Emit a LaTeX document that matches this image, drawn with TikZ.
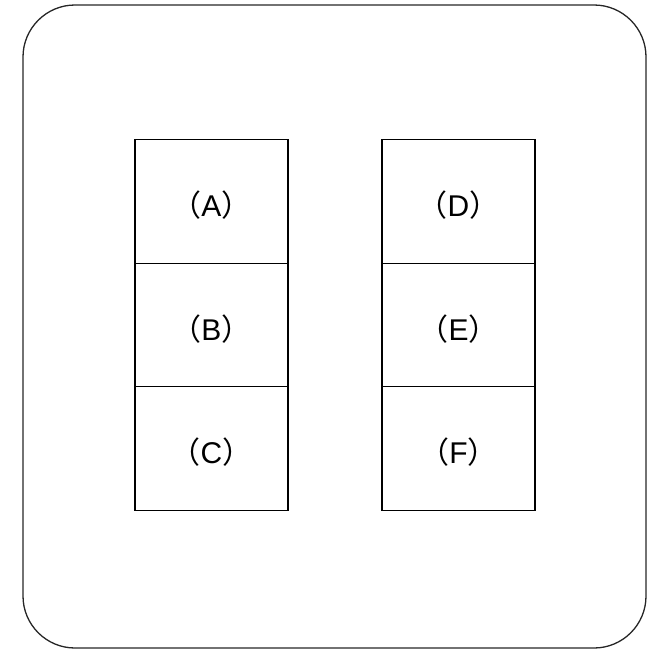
\documentclass[tikz,border=0pt]{standalone}
\usepackage{fontspec}
\setmainfont{Liberation Sans}
\newfontfamily\cjk{Noto Sans CJK JP}
\usepackage{tikz}

\begin{document}
\begin{tikzpicture}[x=1pt,y=-1pt,
  cellstyle/.style={draw,line width=1.3pt,minimum width=153pt,minimum height=123.5pt,
    inner sep=0pt,font=\fontsize{30}{30}\selectfont},
  labelstyle/.style={font=\fontsize{30}{30}\selectfont,inner sep=0pt}]
  \useasboundingbox (0,0) rectangle (653,653);
  % outer plate
  \draw [line width=1.3pt,color=black!85,rounded corners=52pt] (23,5) rectangle (646,648);
  % switch cells
  \foreach \name/\x/\y in {A/211.5/201.5,B/211.5/325,C/211.5/448.5,
                           D/458.5/201.5,E/458.5/325,F/458.5/448.5}
  {
    \node [cellstyle] (cell\name) at (\x,\y) {};
    \node [labelstyle,anchor=base] (label\name) at ([yshift=-15pt]cell\name.center)
      {{\cjk （}\name{\cjk ）}};
  }
\end{tikzpicture}
\end{document}
